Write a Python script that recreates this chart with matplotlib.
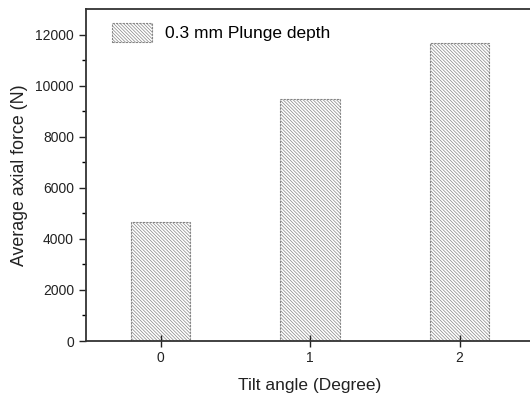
import matplotlib.pyplot as plt
import numpy as np

# data
tilt_angles = [0, 1, 2]
tick_labels = ['0', '1', '2']
axial_force = [4660, 9490, 11670]
legend_label = '0.3 mm Plunge depth'

plt.rcParams['font.family'] = ['Liberation Sans', 'DejaVu Sans']
plt.rcParams['hatch.linewidth'] = 0.5

fig = plt.figure(figsize=(5.30, 3.97), dpi=100)
# axes run slightly past the right edge like in the original
ax = fig.add_axes([0.162, 0.141, 0.846, 0.836])

x = np.array(tilt_angles)
ax.bar(x, axial_force, width=0.4, color='white', edgecolor='#858585',
       hatch='\\' * 10, linewidth=0.8, linestyle=(0, (2, 1)), label=legend_label)

ax.set_xlim(-0.5, 2.5)
ax.set_ylim(0, 13000)
ax.set_xticks(x)
ax.set_xticklabels(tick_labels)
ax.set_yticks(np.arange(0, 12001, 2000))
ax.set_yticks(np.arange(1000, 13000, 2000), minor=True)

ax.tick_params(axis='both', which='major', direction='out', length=5, width=1,
               labelsize=10, colors='#222222')
ax.tick_params(axis='y', which='minor', direction='out', length=3, width=1)
ax.tick_params(axis='x', which='major', direction='inout', length=8)

for s in ax.spines.values():
    s.set_linewidth(1.3)
    s.set_color('#333333')
ax.spines['right'].set_visible(False)

ax.set_xlabel('Tilt angle (Degree)', fontsize=12.5, labelpad=9, color='#222222')
ax.set_ylabel('Average axial force (N)', fontsize=12.8, labelpad=5, color='#222222')

ax.legend(loc='upper left', frameon=False, fontsize=12.5, handlelength=2.3,
          handleheight=1.25, handletextpad=0.8, bbox_to_anchor=(0.042, 0.978),
          borderaxespad=0)

fig.savefig('out.png', dpi=100)
